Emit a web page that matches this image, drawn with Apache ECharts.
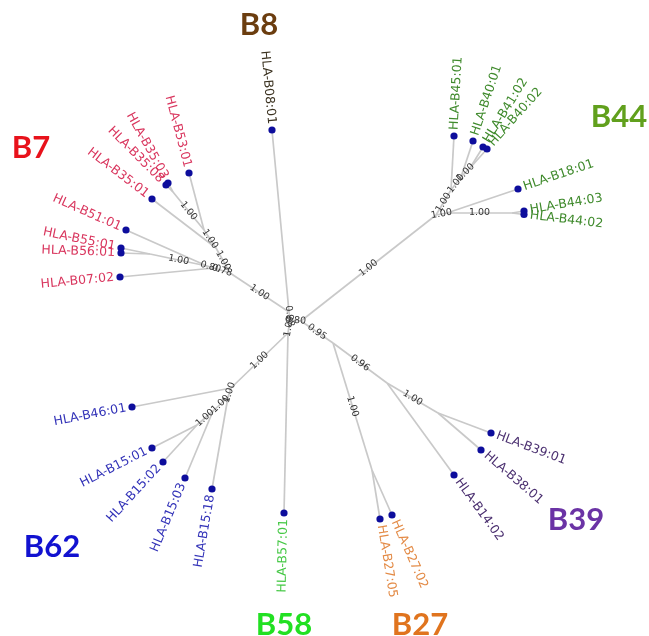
<!DOCTYPE html>
<html>
<head>
<meta charset="utf-8">
<script src="https://cdn.jsdelivr.net/npm/echarts@6/dist/echarts.min.js"></script>
<style>
    html, body { margin: 0; background: #fff; }
    #hla-tree { width: 649px; height: 636px; }
</style>
</head>
<body>
<div id="hla-tree"></div>
<script>
// tree nodes (layout units), parent and support of the branch to the parent
const nodeIds = [
    'c0', 'c8', 'c1', 'c2',
    'HLA-B08:01',
    'x7', 'n7a', 'HLA-B07:02', 'n7b', 'n7bb', 'HLA-B55:01', 'HLA-B56:01', 'HLA-B51:01',
    'n7c', 'HLA-B35:01', 'n7d', 'HLA-B53:01', 'p35', 'HLA-B35:03', 'HLA-B35:08',
    'x44', 'x44b', 'HLA-B18:01', 'p44', 'HLA-B44:03', 'HLA-B44:02',
    'na44', 'HLA-B45:01', 'nb44', 'HLA-B40:01', 'nc44', 'HLA-B41:02', 'HLA-B40:02',
    'x39', 'p27', 'HLA-B27:05', 'HLA-B27:02', 'n39', 'HLA-B14:02', 'n39b', 'HLA-B39:01', 'HLA-B38:01',
    'HLA-B57:01',
    'x62', 'HLA-B46:01', 'n62a', 'HLA-B15:18', 'n62b', 'HLA-B15:03', 'n62c', 'HLA-B15:01', 'HLA-B15:02'
];
const parentIds = [
    null, 'c0', 'c0', 'c0',
    'c8',
    'c8', 'x7', 'n7a', 'n7a', 'n7b', 'n7bb', 'n7bb', 'n7b',
    'x7', 'n7c', 'n7c', 'n7d', 'n7d', 'p35', 'p35',
    'c1', 'x44', 'x44b', 'x44b', 'p44', 'p44',
    'x44', 'na44', 'na44', 'nb44', 'nb44', 'nc44', 'nc44',
    'c1', 'x39', 'p27', 'p27', 'x39', 'n39', 'n39', 'n39b', 'n39b',
    'c2',
    'c2', 'x62', 'x62', 'n62a', 'n62a', 'n62b', 'n62b', 'n62c', 'n62c'
];
const nodeX = [
    290, 289, 301, 288,
    272,
    230, 214, 120, 207, 150, 121, 121, 126,
    216, 152, 204, 189, 173, 168, 166,
    436, 447, 518, 512, 524, 524,
    451, 454, 461, 473, 470, 483, 487,
    333, 372, 380, 392, 387, 454, 438, 491, 481,
    284,
    231, 132, 228, 212, 213, 185, 197, 152, 163
];
const nodeY = [
    320, 312, 321, 333,
    130,
    273, 268, 277, 266, 254, 248, 253, 230,
    248, 199, 230, 173, 192, 183, 185,
    215, 213, 189, 213, 211, 214.5,
    190, 136, 177, 141, 168, 147, 149,
    343, 470, 519, 515, 383, 475, 413, 433, 450,
    513,
    388, 407, 397, 489, 411, 478, 425, 448, 462
];
const supportValues = [
    '', '0.98', '0.80', '1.00',
    '',
    '1.00', '0.78', '', '0.80', '1.00', '', '', '',
    '1.00', '', '1.00', '', '1.00', '', '',
    '1.00', '1.00', '', '1.00', '', '',
    '1.00', '', '1.00', '', '1.00', '', '',
    '0.95', '1.00', '', '', '0.96', '', '1.00', '', '',
    '',
    '1.00', '', '1.00', '', '1.00', '', '1.00', '', ''
];
const leafClade = {
    'HLA-B08:01': 'B8',
    'HLA-B07:02': 'B7', 'HLA-B55:01': 'B7', 'HLA-B56:01': 'B7', 'HLA-B51:01': 'B7',
    'HLA-B35:01': 'B7', 'HLA-B53:01': 'B7', 'HLA-B35:03': 'B7', 'HLA-B35:08': 'B7',
    'HLA-B18:01': 'B44', 'HLA-B44:03': 'B44', 'HLA-B44:02': 'B44', 'HLA-B45:01': 'B44',
    'HLA-B40:01': 'B44', 'HLA-B41:02': 'B44', 'HLA-B40:02': 'B44',
    'HLA-B27:05': 'B27', 'HLA-B27:02': 'B27',
    'HLA-B14:02': 'B39', 'HLA-B39:01': 'B39', 'HLA-B38:01': 'B39',
    'HLA-B57:01': 'B58',
    'HLA-B46:01': 'B62', 'HLA-B15:18': 'B62', 'HLA-B15:03': 'B62', 'HLA-B15:01': 'B62', 'HLA-B15:02': 'B62'
};

// supertype tags
const cladeNames = ['B7', 'B8', 'B44', 'B39', 'B27', 'B58', 'B62'];
const cladeTagX = [31, 259, 619, 576, 420, 284, 52];
const cladeTagY = [148, 25, 117, 520, 625, 625, 547];

const CLADE_COLORS = {
    B7: '#e8121b', B8: '#6b3d0f', B44: '#61a01d', B39: '#6b33a5',
    B27: '#e0741e', B58: '#22e022', B62: '#1212d0'
};
const LEAF_COLORS = {
    B7: '#d9365e', B8: '#3b3220', B44: '#3f8a2c', B39: '#4b3070',
    B27: '#e38a45', B58: '#45c845', B62: '#3333b8'
};
const BRANCH_COLOR = '#c9c9c9';
const DOT_COLOR = '#0d0d9c';


let echarts_tree = echarts.init(document.getElementById('hla-tree'));

let edgeIndex = [];
let leafIndex = [];
nodeIds.forEach((id, i) => {
    if (parentIds[i] !== null) edgeIndex.push(i);
    if (leafClade[id]) leafIndex.push(i);
});

function parentOf(i) {
    return nodeIds.indexOf(parentIds[i]);
}

function readable_angle(dx, dy) {
    // screen dx/dy -> zrender rotation, text kept left-to-right
    if (dx < 0) return Math.atan2(dy, -dx);
    return Math.atan2(-dy, dx);
}

function render_edge(params, api) {
    let a = api.coord([api.value(2), api.value(3)]);
    let b = api.coord([api.value(0), api.value(1)]);
    let children = [{
        type: 'line',
        shape: {x1: a[0], y1: a[1], x2: b[0], y2: b[1]},
        style: {stroke: BRANCH_COLOR, lineWidth: 1.7}
    }];
    let support = supportValues[edgeIndex[params.dataIndex]];
    if (support) {
        children.push({
            type: 'text',
            x: (a[0] + b[0]) / 2,
            y: (a[1] + b[1]) / 2,
            rotation: readable_angle(b[0] - a[0], b[1] - a[1]),
            z2: 10,
            style: {
                text: support,
                fill: '#333',
                font: '9.5px "DejaVu Sans"',
                align: 'center',
                verticalAlign: 'middle'
            }
        });
    }
    return {type: 'group', children: children};
}

function render_leaf(params, api) {
    let i = leafIndex[params.dataIndex];
    let a = api.coord([api.value(2), api.value(3)]);
    let b = api.coord([api.value(0), api.value(1)]);
    let dx = b[0] - a[0], dy = b[1] - a[1];
    let len = Math.sqrt(dx * dx + dy * dy) || 1;
    let gap = 6;
    return {
        type: 'group',
        children: [
            {
                type: 'circle',
                shape: {cx: b[0], cy: b[1], r: 3.6},
                style: {fill: DOT_COLOR}
            },
            {
                type: 'text',
                x: b[0] + dx / len * gap,
                y: b[1] + dy / len * gap,
                rotation: readable_angle(dx, dy),
                style: {
                    text: nodeIds[i],
                    fill: LEAF_COLORS[leafClade[nodeIds[i]]],
                    font: '12.5px "DejaVu Sans"',
                    align: dx < 0 ? 'right' : 'left',
                    verticalAlign: 'middle'
                }
            }
        ]
    };
}

function render_tag(params, api) {
    let p = api.coord([api.value(0), api.value(1)]);
    let name = cladeNames[params.dataIndex];
    return {
        type: 'text',
        x: p[0],
        y: p[1],
        style: {
            text: name,
            fill: CLADE_COLORS[name],
            font: 'bold 31px Lato, "Open Sans", sans-serif',
            align: 'center',
            verticalAlign: 'middle'
        }
    };
}

let echarts_options = {
    animation: false,
    grid: {left: 0, right: 0, top: 0, bottom: 0},
    xAxis: {type: 'value', min: 0, max: 649, show: false},
    yAxis: {type: 'value', min: 0, max: 636, inverse: true, show: false},
    series: [
        {
            type: 'custom',
            clip: false,
            silent: true,
            renderItem: render_edge,
            encode: {x: [0, 2], y: [1, 3]},
            data: edgeIndex.map(i => {
                let p = parentOf(i);
                return [nodeX[i], nodeY[i], nodeX[p], nodeY[p]];
            })
        },
        {
            type: 'custom',
            clip: false,
            silent: true,
            renderItem: render_leaf,
            encode: {x: [0, 2], y: [1, 3]},
            data: leafIndex.map(i => {
                let p = parentOf(i);
                return [nodeX[i], nodeY[i], nodeX[p], nodeY[p]];
            })
        },
        {
            type: 'custom',
            clip: false,
            silent: true,
            renderItem: render_tag,
            encode: {x: 0, y: 1},
            data: cladeNames.map((n, k) => [cladeTagX[k], cladeTagY[k]])
        }
    ]
};

echarts_tree.setOption(echarts_options);
</script>
</body>
</html>
